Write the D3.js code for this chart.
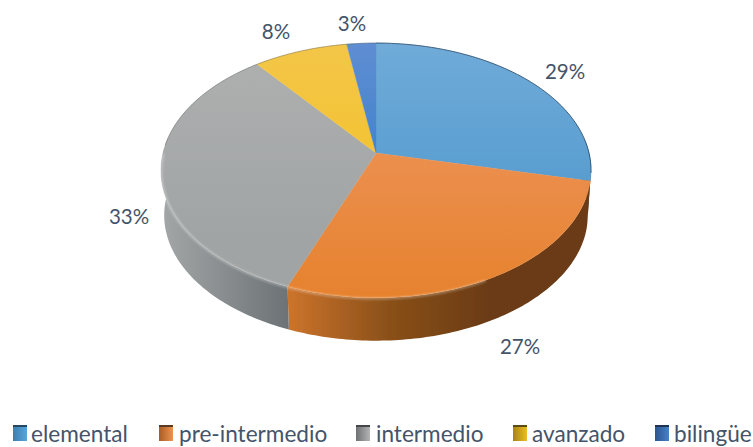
<!DOCTYPE html>
<html><head><meta charset="utf-8">
<script src="https://cdn.jsdelivr.net/npm/d3@7"></script>
<style>html,body{margin:0;background:#fff}svg{display:block}text{font-family:Lato,"Open Sans",sans-serif;fill:#44546a}</style>
</head><body><svg id="c" width="753" height="447"></svg>
<script>
const categories = ["elemental","pre-intermedio","intermedio","avanzado","bilingüe"];
const shares = [28.5,27.4,33.49,8.11,2.5];
const shareLabels = ["29%","27%","33%","8%","3%"];
const topColors = [["#70abd9","#4592c9"],["#f09a68","#e6822e"],["#afb1b1","#a1a4a4"],["#f3c648","#f4c025"],["#5f8dd3","#2f7cc6"]];
const sideColors = [["#4a7ba0","#3a3a20"],["#cc742c","#8a5019","#6a3b12","#6a3b12"],["#a4a7a8","#6c7275"],["#b8901c","#7a5f10"],["#3a6ca8","#1f3f68"]];
const swatchColors = [["#3c7fb0","#58a5db"],["#a85c24","#ee9350"],["#6e7172","#b3b5b5"],["#a58416","#eebc24"],["#2b5590","#4a80c8"]];
const swatchBands = ["#27465f","#5a3a22","#444749","#5c4a14","#1f3350"];
const labelAt = [[565,72],[520,347],[129,217],[276,32],[352,24]];
const legendAt = [[13,31],[159,179],[356,376],[513,532],[655,674]];

const svg = d3.select("#c"), defs = svg.append("defs");
const cx=376, cy=153, A=213, B=125, k=0.137, depth=45, shrink=0.985;
const project = (a,s=1,dy=0)=>{const X=Math.sin(a),Y=Math.cos(a),d=1+k*Y;return [cx+s*A*X/d, cy+dy-s*B*Y/d];};
const arcs = d3.pie().sort(null).value(d=>d)(shares);
const samples=(a0,a1)=>{const n=Math.max(2,Math.ceil((a1-a0)*60));return d3.range(n+1).map(i=>a0+(a1-a0)*i/n);};
const line=d3.line();

const lg=(id,c,x1,y1,x2,y2)=>{const g=defs.append("linearGradient").attr("id",id).attr("gradientUnits","userSpaceOnUse")
  .attr("x1",x1).attr("y1",y1).attr("x2",x2).attr("y2",y2);
  c.forEach((col,j)=>g.append("stop").attr("offset",j/(c.length-1)).attr("stop-color",col));};
const blur=(id,s)=>defs.append("filter").attr("id",id).attr("x","-5%").attr("y","-5%").attr("width","110%").attr("height","110%")
  .append("feGaussianBlur").attr("stdDeviation",s);
blur("soft",0.9); blur("pieSoft",0.55);

const pie=svg.append("g").attr("filter","url(#pieSoft)");
const gSide=pie.append("g"), gTop=pie.append("g");
arcs.forEach((d,i)=>{
  const front0=Math.max(d.startAngle,Math.PI*0.46), front1=Math.min(d.endAngle,Math.PI*1.54);
  if(front1>front0){
    const t=samples(front0,front1);
    const upper=t.map(a=>project(a));
    const lower=t.map(a=>project(a,shrink,depth)).reverse();
    const xs=upper.concat(lower).map(p=>p[0]);
    lg("side"+i, sideColors[i], d3.min(xs),0,d3.max(xs),0);
    gSide.append("path").attr("d",line(upper.concat(lower))+"Z").attr("fill",`url(#side${i})`);
  }
  const rim=samples(d.startAngle,d.endAngle).map(a=>project(a));
  lg("top"+i,topColors[i],0,project(0)[1],0,project(Math.PI)[1]-(i>=2?60:0));
  gTop.append("path").attr("d",line([[cx,cy],...rim])+"Z").attr("fill",`url(#top${i})`)
    .attr("stroke",`url(#top${i})`).attr("stroke-width",0.4);
});
const bevel=samples(Math.PI*0.85,Math.PI*1.5).map(a=>project(a,0.998,1));
pie.append("path").attr("d",line(bevel)).attr("fill","none").attr("stroke","#fff").attr("stroke-opacity",0.35)
  .attr("stroke-width",2).attr("filter","url(#soft)");
const backRim=samples(0,Math.PI*0.55).map(a=>project(a));
pie.append("path").attr("d",line(backRim)).attr("fill","none").attr("stroke","#2b4a66").attr("stroke-width",1).attr("stroke-opacity",.8);
const backRim2=samples(Math.PI*1.52,Math.PI*2).map(a=>project(a));
pie.append("path").attr("d",line(backRim2)).attr("fill","none").attr("stroke","#555").attr("stroke-width",0.7).attr("stroke-opacity",.6);

svg.append("g").selectAll("text").data(shareLabels).join("text")
  .attr("x",(d,i)=>labelAt[i][0]).attr("y",(d,i)=>labelAt[i][1]).attr("dy","0.36em")
  .attr("text-anchor","middle").attr("font-size",20.5).text(d=>d);

const leg=svg.append("g");
categories.forEach((c,i)=>{
  const x=legendAt[i][0];
  lg("sw"+i,swatchColors[i],x,0,x+14,0);
  leg.append("rect").attr("x",x).attr("y",425).attr("width",14).attr("height",16).attr("fill",`url(#sw${i})`);
  leg.append("rect").attr("x",x).attr("y",425).attr("width",14).attr("height",2).attr("fill",swatchBands[i]);
  leg.append("text").attr("x",legendAt[i][1]).attr("y",441.5).attr("font-size",22.6).text(c);
});
</script></body></html>
